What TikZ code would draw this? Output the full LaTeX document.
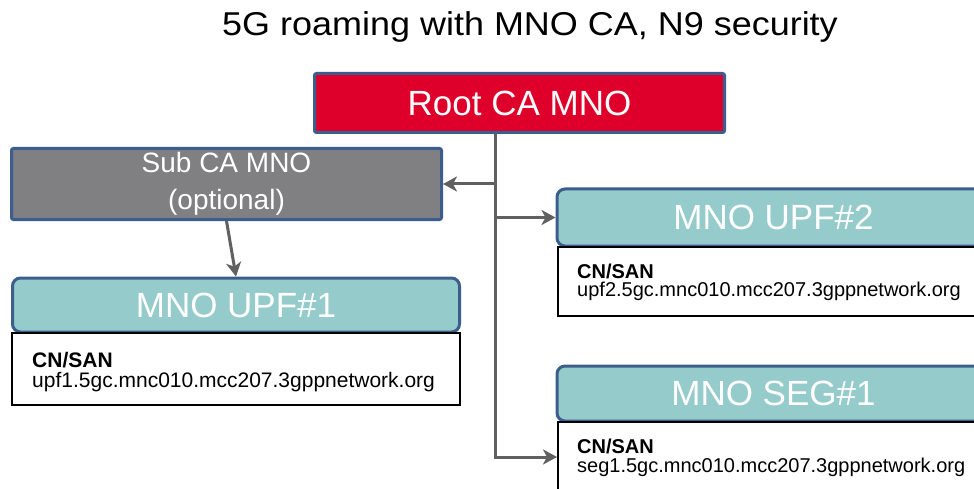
\documentclass[tikz,border=0pt]{standalone}
\usepackage{fontspec}
\usepackage{graphicx}
\setmainfont{Liberation Sans}
\usetikzlibrary{arrows.meta}

\definecolor{rootred}{RGB}{222,0,42}
\definecolor{edgeblue}{RGB}{60,94,140}
\definecolor{headteal}{RGB}{150,203,203}
\definecolor{subgray}{RGB}{128,128,131}
\definecolor{linkgray}{RGB}{96,96,96}

\tikzset{
  cabox/.style={draw=edgeblue, line width=3pt, rounded corners=2pt,
    text=white, inner sep=0pt, align=center},
  headbox/.style={draw=edgeblue, fill=headteal, line width=3pt, rounded corners=8pt,
    text=white, inner sep=0pt, font=\fontsize{35}{38}\selectfont},
  bodybox/.style={draw=black, fill=white, line width=2pt, inner sep=0pt},
  sanlabel/.style={anchor=west, align=left, inner sep=0pt,
    font=\fontsize{21}{20}\selectfont},
  sanlabelsmall/.style={sanlabel, font=\fontsize{20}{18.5}\selectfont},
  link/.style={draw=linkgray, line width=3pt,
    -{Stealth[length=14pt,width=15pt,inset=4pt]}},
}

\begin{document}
\begin{tikzpicture}[x=1pt,y=-1pt]
  \useasboundingbox (0,0) rectangle (974,489);
  \fill[white] (0,0) rectangle (974,489);
  \clip (0,0) rectangle (974,489);

  % title
  \node[anchor=base, inner sep=0pt] (title) at (530,36)
    {\scalebox{1.09}[1]{\fontsize{33}{36}\selectfont 5G roaming with MNO CA, N9 security}};

  % certificate authorities
  \node[cabox, fill=rootred, minimum width=410pt, minimum height=59pt,
        font=\fontsize{35}{38}\selectfont] (root) at (519.5,103) {Root CA MNO};
  \node[cabox, fill=subgray, minimum width=430pt, minimum height=71pt,
        font=\fontsize{28}{37}\selectfont] (sub) at (226.5,184) {Sub CA MNO\\(optional)};

  % UPF#1 (left)
  \node[headbox, minimum width=447pt, minimum height=54pt] (upf1) at (236,305) {MNO UPF\#1};
  \node[bodybox, minimum width=448pt, minimum height=72pt] (upf1body) at (236,369) {};
  \node[sanlabel] (upf1san) at ([xshift=21pt,yshift=-3pt]upf1body.west)
    {\textbf{CN/SAN}\\upf1.5gc.mnc010.mcc207.3gppnetwork.org};

  % UPF#2 (right, upper)
  \node[headbox, minimum width=433pt, minimum height=57pt] (upf2) at (773.5,217.5) {MNO UPF\#2};
  \node[bodybox, minimum width=432pt, minimum height=69pt] (upf2body) at (774,281.5) {};
  \node[sanlabelsmall] (upf2san) at ([xshift=20pt,yshift=-1pt]upf2body.west)
    {\textbf{CN/SAN}\\upf2.5gc.mnc010.mcc207.3gppnetwork.org};

  % SEG#1 (right, lower)
  \node[headbox, minimum width=433pt, minimum height=55pt] (seg) at (773.5,393.5) {MNO SEG\#1};
  \node[bodybox, minimum width=432pt, minimum height=70pt] (segbody) at (774,457) {};
  \node[sanlabelsmall] (segsan) at ([xshift=20pt,yshift=-1pt]segbody.west)
    {\textbf{CN/SAN}\\seg1.5gc.mnc010.mcc207.3gppnetwork.org};

  % certificate chain connectors
  \coordinate (trunk) at (495,0);
  \draw[link] (root.south -| trunk) |- (segbody.west);
  \draw[link] (trunk |- sub.east) -- (sub.east);
  \draw[link] (trunk |- upf2.west) -- (upf2.west);
  \draw[link] (sub.south) -- (upf1.north);
\end{tikzpicture}
\end{document}
